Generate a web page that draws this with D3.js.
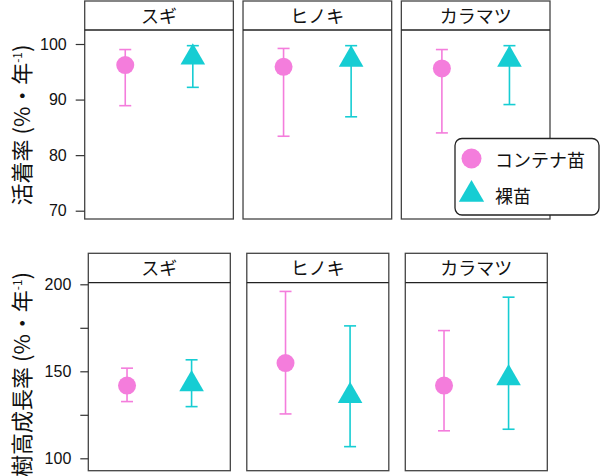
<!DOCTYPE html>
<html>
<head>
<meta charset="utf-8">
<script src="https://cdn.jsdelivr.net/npm/d3@7"></script>
<style>
  body { margin: 0; background: #fff; }
  svg { display: block; }
  .tick text { font-family: "Liberation Sans", Arial, sans-serif; font-size: 16px; fill: #111; }
  .tick line { stroke: #333; stroke-width: 1.2; }
  .jp { font-family: "Noto Sans CJK JP", sans-serif; fill: #111; }
</style>
</head>
<body>
<svg id="chart" width="600" height="476"></svg>
<script>
// ======== data
const species = ["スギ", "ヒノキ", "カラマツ"];
const types = ["コンテナ苗", "裸苗"];

// 活着率 (%・年-1)
const survContMean = [96.2, 95.9, 95.6];
const survContLow = [88.9, 83.4, 84.0];
const survContHigh = [99.0, 99.2, 99.0];
const survBareMean = [97.6, 97.2, 97.2];
const survBareLow = [92.2, 86.9, 89.1];
const survBareHigh = [99.7, 99.7, 99.7];

// 樹高成長率 (%・年-1)
const growContMean = [141.8, 154.7, 141.8];
const growContLow = [132.6, 125.5, 115.8];
const growContHigh = [151.8, 195.9, 173.4];
const growBareMean = [142.6, 135.9, 146.0];
const growBareLow = [129.7, 106.7, 116.7];
const growBareHigh = [156.6, 176.1, 192.6];

const survTicks = [70, 80, 90, 100];
const growTicks = [100, 125, 150, 175, 200];
const growTickLabels = [100, 150, 200];
// ======== data end

const colors = { "コンテナ苗": "#f47ddc", "裸苗": "#16cdd3" };
const svg = d3.select("#chart");

function rows(mC, lC, hC, mB, lB, hB) {
  const out = [];
  species.forEach((sp, i) => {
    out.push({ sp, type: types[0], mean: mC[i], lo: lC[i], hi: hC[i] });
    out.push({ sp, type: types[1], mean: mB[i], lo: lB[i], hi: hB[i] });
  });
  return out;
}

// triangle like R pch 17 (circumcentre on the value)
function triPath(cx, cy, r) {
  const xc = r * Math.sqrt(3) / 2;
  return `M${cx},${cy - r}L${cx + xc},${cy + r / 2}L${cx - xc},${cy + r / 2}Z`;
}

function drawRow(cfg) {
  const fx = d3.scaleBand().domain(species).range(cfg.xRange).paddingInner(cfg.gap);
  const y = d3.scaleLinear().domain(cfg.domain).range(cfg.yRange);
  const px = d3.scalePoint().domain(types).range([0, fx.bandwidth()]).padding(0.6);

  const g = svg.append("g");

  // panels
  const panel = g.selectAll("g.panel")
    .data(species)
    .join("g")
    .attr("class", "panel")
    .attr("transform", d => `translate(${fx(d)},0)`);

  panel.append("rect")
    .attr("x", 0).attr("y", cfg.stripTop)
    .attr("width", fx.bandwidth()).attr("height", cfg.panelBottom - cfg.stripTop)
    .attr("fill", "#fff").attr("stroke", "#444").attr("stroke-width", 1.3);

  panel.append("line")
    .attr("x1", 0).attr("x2", fx.bandwidth())
    .attr("y1", cfg.stripBottom).attr("y2", cfg.stripBottom)
    .attr("stroke", "#222").attr("stroke-width", 1.3);

  panel.append("text")
    .attr("class", "jp")
    .attr("x", fx.bandwidth() / 2)
    .attr("y", (cfg.stripTop + cfg.stripBottom) / 2 - 1)
    .attr("text-anchor", "middle")
    .attr("dominant-baseline", "central")
    .attr("font-size", 18)
    .text(d => d);

  // y axis
  const axis = g.append("g")
    .attr("transform", `translate(${cfg.xRange[0]},0)`)
    .call(d3.axisLeft(y)
      .tickValues(cfg.ticks)
      .tickSize(cfg.tickSize)
      .tickPadding(9)
      .tickFormat(v => cfg.labels.includes(v) ? v : ""));
  axis.select(".domain").remove();

  // error bars + points
  const pts = g.append("g").selectAll("g")
    .data(cfg.data)
    .join("g")
    .attr("transform", d => `translate(${fx(d.sp) + px(d.type)},0)`);

  pts.append("line")
    .attr("y1", d => y(d.lo)).attr("y2", d => y(d.hi))
    .attr("stroke", d => colors[d.type]).attr("stroke-width", 1.6);
  pts.append("line")
    .attr("x1", -6).attr("x2", 6)
    .attr("y1", d => y(d.hi)).attr("y2", d => y(d.hi))
    .attr("stroke", d => colors[d.type]).attr("stroke-width", 1.6);
  pts.append("line")
    .attr("x1", -6).attr("x2", 6)
    .attr("y1", d => y(d.lo)).attr("y2", d => y(d.lo))
    .attr("stroke", d => colors[d.type]).attr("stroke-width", 1.6);

  pts.filter(d => d.type === types[0]).append("circle")
    .attr("cy", d => y(d.mean)).attr("r", 9)
    .attr("fill", colors[types[0]]);
  pts.filter(d => d.type === types[1]).append("path")
    .attr("d", d => triPath(0, y(d.mean), 14.2))
    .attr("fill", colors[types[1]]);

  // rotated y label
  const lab = svg.append("text")
    .attr("class", "jp")
    .attr("font-size", 22)
    .attr("text-anchor", cfg.labelAnchor)
    .attr("transform", `translate(30,${cfg.labelY}) rotate(-90)`);
  lab.append("tspan").text(cfg.label + " (%・年");
  lab.append("tspan").attr("font-size", 12).attr("dy", -8).text("-1");
  lab.append("tspan").attr("dy", 8).text(")");
}

drawRow({
  data: rows(survContMean, survContLow, survContHigh, survBareMean, survBareLow, survBareHigh),
  xRange: [84.7, 550], gap: 0.061,
  domain: [70, 100], yRange: [210.7, 44],
  stripTop: 1, stripBottom: 30, panelBottom: 219,
  ticks: survTicks, labels: survTicks, tickSize: 9,
  label: "活着率", labelAnchor: "middle", labelY: 125
});

drawRow({
  data: rows(growContMean, growContLow, growContHigh, growBareMean, growBareLow, growBareHigh),
  xRange: [88.3, 547.3], gap: 0.104,
  domain: [100, 200], yRange: [458.3, 284.3],
  stripTop: 253.3, stripBottom: 282.7, panelBottom: 470.7,
  ticks: growTicks, labels: growTickLabels, tickSize: 8,
  label: "樹高成長率", labelAnchor: "end", labelY: 272
});

// ======== legend
const legend = svg.append("g").attr("transform", "translate(455,138.5)");
legend.append("rect")
  .attr("width", 144).attr("height", 76.5).attr("rx", 7)
  .attr("fill", "#fff").attr("stroke", "#222").attr("stroke-width", 1.3);
const item = legend.selectAll("g.item")
  .data(types)
  .join("g")
  .attr("class", "item")
  .attr("transform", (d, i) => `translate(16.5,${20 + i * 36})`);
item.filter((d, i) => i === 0).append("circle")
  .attr("r", 10).attr("fill", colors[types[0]]);
item.filter((d, i) => i === 1).append("path")
  .attr("d", triPath(0, 0, 14.6))
  .attr("fill", colors[types[1]]);
item.append("text")
  .attr("class", "jp")
  .attr("x", 23.5)
  .attr("dominant-baseline", "central")
  .attr("font-size", 18)
  .text(d => d);
</script>
</body>
</html>
